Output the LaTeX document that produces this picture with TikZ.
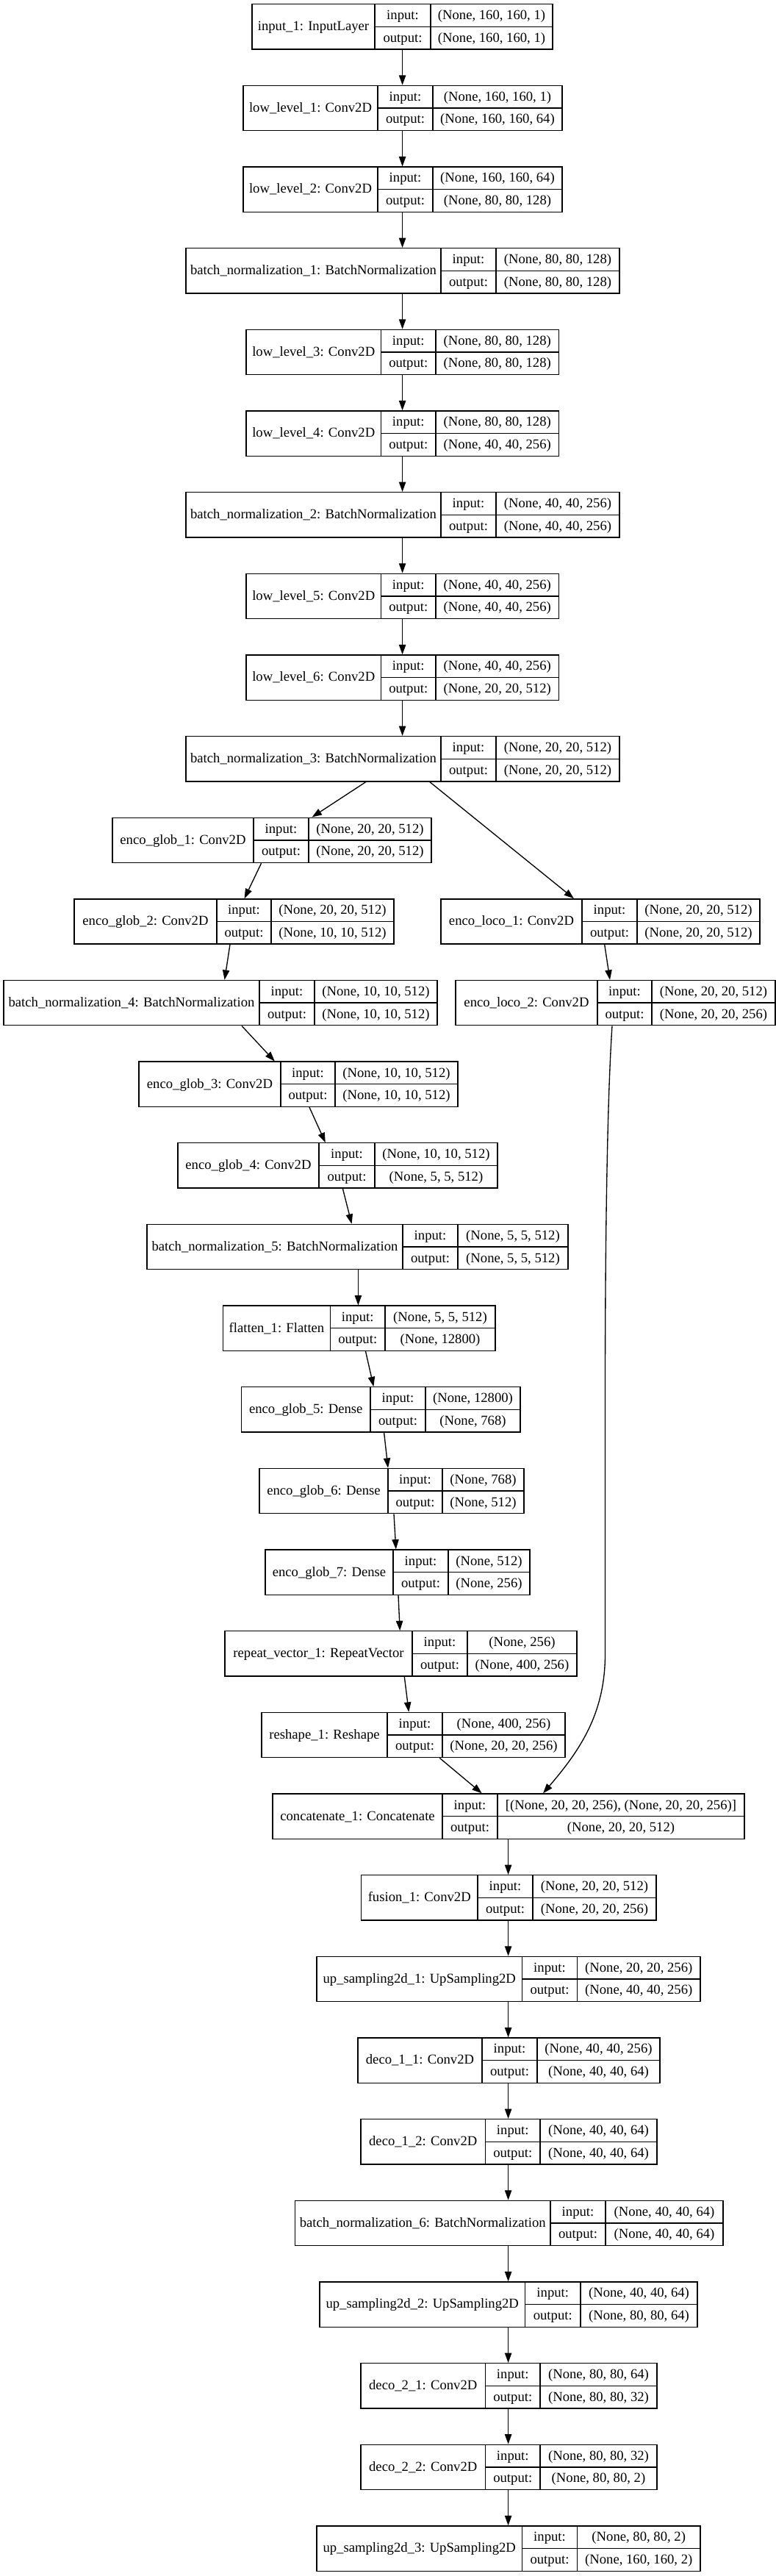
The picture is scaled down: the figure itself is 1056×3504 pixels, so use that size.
\documentclass[tikz,border=0pt]{standalone}
\usepackage{fontspec}
\setmainfont{Liberation Serif}
\usetikzlibrary{arrows.meta,fit,calc}
% #1 name, #2 row, #3 left, #4 divider 1, #5 divider 2, #6 right, #7 label, #8 input shape, #9 output shape
\newcommand\layer[9]{%
  \pgfmathsetmacro\LyT{5.7+110.65*#2}%
  \pgfmathsetmacro\LyB{\LyT+61.3}%
  \pgfmathsetmacro\LyM{\LyT+30.65}%
  \node[box, fit={(#3,\LyT) (#6,\LyB)}] (#1) {};
  \draw[cell] (#4,\LyT) -- (#4,\LyB);
  \draw[cell] (#5,\LyT) -- (#5,\LyB);
  \draw[cell] (#4,\LyM) -- (#6,\LyM);
  \node[txt] (#1-l) at ({(#3+#4)/2},{\LyT+36}) {#7};
  \node[txt] (#1-i) at ({(#4+#5)/2},{\LyT+21}) {input:};
  \node[txt] (#1-o) at ({(#4+#5)/2},{\LyT+51.6}) {output:};
  \node[txt] (#1-a) at ({(#5+#6)/2},{\LyT+21}) {#8};
  \node[txt] (#1-b) at ({(#5+#6)/2},{\LyT+51.6}) {#9};
}
\begin{document}
\begin{tikzpicture}[x=0.75bp,y=-0.75bp,
  box/.style={draw=black, line width=1bp, inner sep=0pt, fill=none},
  cell/.style={draw=black, line width=1bp},
  txt/.style={inner sep=0pt, anchor=base, font=\fontsize{14bp}{16bp}\selectfont},
  conn/.style={draw=black, line width=1bp, -{Triangle[length=10bp,width=7bp]}}]
\useasboundingbox[fill=white] (0,0) rectangle (1056,3504);

\layer{inp}{0}{343}{510}{586}{752}{input\_1: InputLayer}{(None, 160, 160, 1)}{(None, 160, 160, 1)}
\layer{ll1}{1}{331}{514}{589}{765}{low\_level\_1: Conv2D}{(None, 160, 160, 1)}{(None, 160, 160, 64)}
\layer{ll2}{2}{331}{514}{589}{765}{low\_level\_2: Conv2D}{(None, 160, 160, 64)}{(None, 80, 80, 128)}
\layer{bn1}{3}{253}{600}{675}{843}{batch\_normalization\_1: BatchNormalization}{(None, 80, 80, 128)}{(None, 80, 80, 128)}
\layer{ll3}{4}{335}{518.5}{593}{760.5}{low\_level\_3: Conv2D}{(None, 80, 80, 128)}{(None, 80, 80, 128)}
\layer{ll4}{5}{335}{518.5}{593}{760.5}{low\_level\_4: Conv2D}{(None, 80, 80, 128)}{(None, 40, 40, 256)}
\layer{bn2}{6}{253}{600}{675}{843}{batch\_normalization\_2: BatchNormalization}{(None, 40, 40, 256)}{(None, 40, 40, 256)}
\layer{ll5}{7}{335}{518.5}{593}{760.5}{low\_level\_5: Conv2D}{(None, 40, 40, 256)}{(None, 40, 40, 256)}
\layer{ll6}{8}{335}{518.5}{593}{760.5}{low\_level\_6: Conv2D}{(None, 40, 40, 256)}{(None, 20, 20, 512)}
\layer{bn3}{9}{253}{600}{675}{843}{batch\_normalization\_3: BatchNormalization}{(None, 20, 20, 512)}{(None, 20, 20, 512)}
\layer{eg1}{10}{153}{345}{420}{587}{enco\_glob\_1: Conv2D}{(None, 20, 20, 512)}{(None, 20, 20, 512)}
\layer{eg2}{11}{101}{295}{369}{536}{enco\_glob\_2: Conv2D}{(None, 20, 20, 512)}{(None, 10, 10, 512)}
\layer{el1}{11}{600}{792}{867}{1034}{enco\_loco\_1: Conv2D}{(None, 20, 20, 512)}{(None, 20, 20, 512)}
\layer{bn4}{12}{5}{353}{428}{595}{batch\_normalization\_4: BatchNormalization}{(None, 10, 10, 512)}{(None, 10, 10, 512)}
\layer{el2}{12}{620}{813}{887}{1055}{enco\_loco\_2: Conv2D}{(None, 20, 20, 512)}{(None, 20, 20, 256)}
\layer{eg3}{13}{189}{382}{456}{623}{enco\_glob\_3: Conv2D}{(None, 10, 10, 512)}{(None, 10, 10, 512)}
\layer{eg4}{14}{242}{434}{510}{677}{enco\_glob\_4: Conv2D}{(None, 10, 10, 512)}{(None, 5, 5, 512)}
\layer{bn5}{15}{200}{548}{623}{773}{batch\_normalization\_5: BatchNormalization}{(None, 5, 5, 512)}{(None, 5, 5, 512)}
\layer{fl}{16}{303.5}{449.5}{524}{674}{flatten\_1: Flatten}{(None, 5, 5, 512)}{(None, 12800)}
\layer{eg5}{17}{328.5}{504}{579}{708}{enco\_glob\_5: Dense}{(None, 12800)}{(None, 768)}
\layer{eg6}{18}{353}{528}{602}{713}{enco\_glob\_6: Dense}{(None, 768)}{(None, 512)}
\layer{eg7}{19}{361}{535}{610}{721}{enco\_glob\_7: Dense}{(None, 512)}{(None, 256)}
\layer{rv}{20}{306}{561}{636}{785}{repeat\_vector\_1: RepeatVector}{(None, 256)}{(None, 400, 256)}
\layer{rs}{21}{356}{527}{602}{769}{reshape\_1: Reshape}{(None, 400, 256)}{(None, 20, 20, 256)}
\layer{cc}{22}{371}{602}{677}{1013}{concatenate\_1: Concatenate}{[(None, 20, 20, 256), (None, 20, 20, 256)]}{(None, 20, 20, 512)}
\layer{fu}{23}{491.5}{650}{725}{893}{fusion\_1: Conv2D}{(None, 20, 20, 512)}{(None, 20, 20, 256)}
\layer{us1}{24}{431}{710.5}{785.5}{953}{up\_sampling2d\_1: UpSampling2D}{(None, 20, 20, 256)}{(None, 40, 40, 256)}
\layer{d11}{25}{487}{656}{731}{898}{deco\_1\_1: Conv2D}{(None, 40, 40, 256)}{(None, 40, 40, 64)}
\layer{d12}{26}{491}{660.5}{735}{894}{deco\_1\_2: Conv2D}{(None, 40, 40, 64)}{(None, 40, 40, 64)}
\layer{bn6}{27}{401.5}{749}{824}{984}{batch\_normalization\_6: BatchNormalization}{(None, 40, 40, 64)}{(None, 40, 40, 64)}
\layer{us2}{28}{435}{714.5}{790}{949}{up\_sampling2d\_2: UpSampling2D}{(None, 40, 40, 64)}{(None, 80, 80, 64)}
\layer{d21}{29}{491}{660.5}{735}{894}{deco\_2\_1: Conv2D}{(None, 80, 80, 64)}{(None, 80, 80, 32)}
\layer{d22}{30}{491}{660.5}{735}{894}{deco\_2\_2: Conv2D}{(None, 80, 80, 32)}{(None, 80, 80, 2)}
\layer{us3}{31}{431}{710.5}{785.5}{953}{up\_sampling2d\_3: UpSampling2D}{(None, 80, 80, 2)}{(None, 160, 160, 2)}

% upper chain
\foreach \a/\b in {inp/ll1, ll1/ll2, ll2/bn1, bn1/ll3, ll3/ll4, ll4/bn2, bn2/ll5, ll5/ll6, ll6/bn3}
  \draw[conn] (\a.south -| 547.6,0) -- (\b.north -| 547.6,0);
% branches
\draw[conn] (bn3.south -| 498,0) -- (eg1.north -| 424.6,0);
\draw[conn] (bn3.south -| 584.7,0) -- (el1.north -| 780.9,0);
\draw[conn] (eg1.south -| 355.6,0) -- (eg2.north -| 332.6,0);
\draw[conn] (eg2.south -| 313,0) -- (bn4.north -| 305.6,0);
\draw[conn] (el1.south -| 822.7,0) -- (el2.north -| 830,0);
\draw[conn] (bn4.south -| 329,0) -- (eg3.north -| 373.8,0);
\draw[conn] (eg3.south -| 421,0) -- (eg4.north -| 442.8,0);
\draw[conn] (eg4.south -| 466.4,0) -- (bn5.north -| 478.6,0);
\draw[conn] (bn5.south -| 487.4,0) -- (fl.north -| 487.4,0);
\draw[conn] (fl.south -| 497.5,0) -- (eg5.north -| 508.4,0);
\draw[conn] (eg5.south -| 522.6,0) -- (eg6.north -| 528,0);
\draw[conn] (eg6.south -| 536,0) -- (eg7.north -| 538.8,0);
\draw[conn] (eg7.south -| 542,0) -- (rv.north -| 544.2,0);
\draw[conn] (rv.south -| 550.3,0) -- (rs.north -| 556.3,0);
\draw[conn] (rs.south -| 598.3,0) -- (cc.north -| 655.7,0);
\draw[conn] (el2.south -| 833,0) .. controls (826,1500) and (823.5,1700) .. (823.5,1900)
  -- (823.5,2250) .. controls (823.5,2330) and (790,2380) .. (cc.north -| 739,0);
% lower chain
\foreach \a/\b in {cc/fu, fu/us1, us1/d11, d11/d12, d12/bn6, bn6/us2, us2/d21, d21/d22, d22/us3}
  \draw[conn] (\a.south -| 691.6,0) -- (\b.north -| 691.6,0);
\end{tikzpicture}
\end{document}
